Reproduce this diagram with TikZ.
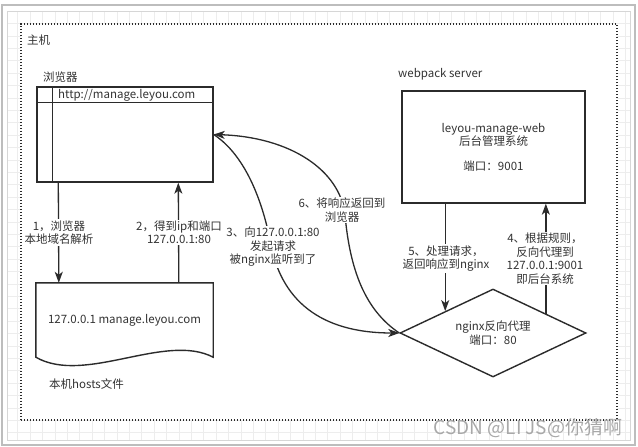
\documentclass[tikz,border=0pt]{standalone}
\usepackage{fontspec}
\setmainfont{Noto Sans CJK SC}
\usetikzlibrary{arrows.meta,shapes.geometric,calc}
\definecolor{ln}{HTML}{2B2B2B}
\definecolor{tx}{HTML}{333333}
\definecolor{gridc}{HTML}{EDEDED}
\definecolor{framec}{HTML}{BDBDBD}
\definecolor{framein}{HTML}{D6D6D6}
\definecolor{wm}{HTML}{A8A8A8}
\begin{document}
\begin{tikzpicture}[x=1pt,y=-1pt,
  font=\fontsize{11.5}{13.5}\selectfont, text=tx,
  shapebox/.style={draw=ln, line width=1.4pt, inner sep=0pt},
  txt/.style={inner sep=0pt},
  arr/.style={draw=ln, line width=1.3pt, -{Stealth[length=11pt,width=8pt,inset=3pt]}},
  lbl/.style={fill=white, inner sep=1.2pt, align=center}]
\useasboundingbox (0,0) rectangle (638,447);
% background grid and frame
\begin{scope}
  \clip (7,11) rectangle (630,440);
  \foreach \i in {0,...,52} \draw[gridc, line width=0.6pt] ({5.2+\i*12.4},0) -- ++(0,447);
  \foreach \j in {0,...,36} \draw[gridc, line width=0.6pt] (0,{11+\j*12.4}) -- ++(638,0);
\end{scope}
\draw[framec, line width=1.2pt] (2,5) rectangle (635,445);
\draw[framein, line width=0.8pt] (7,11) rectangle (630,440);
% host container
\node (host) [draw=ln, fill=white, line width=1.4pt, dash pattern=on 1.4pt off 1.6pt,
  minimum width=596pt, minimum height=396pt, inner sep=0pt] at (319,222) {};
\node (hostlbl) [txt, anchor=west] at (27,40) {主机};
% browser
\node (brlbl) [txt, anchor=west] at (43,77) {浏览器};
\node (br) [shapebox, minimum width=176pt, minimum height=95pt] at (125,134.5) {};
\draw[draw=ln, line width=1.4pt] ($(br.north west)+(0,16)$) -- ($(br.north east)+(0,16)$);
\draw[draw=ln, line width=1.4pt] ($(br.north west)+(16,0)$) -- ($(br.south west)+(16,0)$);
\node (url) [txt, anchor=west] at (58,95) {http://manage.leyou.com};
% hosts document
\node (hosts) [inner sep=0pt, minimum width=177pt, minimum height=74pt] at (124.5,320) {127.0.0.1 manage.leyou.com};
\draw[draw=ln, line width=1.4pt, line join=miter] (hosts.south west) -- (hosts.north west) -- (hosts.north east) -- (hosts.south east)
  .. controls ($(hosts.south east)+(-48,-25)$) and ($(hosts.south west)+(49,28)$) .. (hosts.south west) -- cycle;
\node (hostslbl) [txt, anchor=west] at (49,384) {本机hosts文件};
% webpack server
\node (weblbl) [txt, anchor=west] at (398,74) {webpack server};
\node (web) [shapebox, minimum width=183pt, minimum height=112pt, align=center] at (493.5,147)
  {leyou-manage-web\\后台管理系统\\[11pt]端口：9001};
% nginx
\node (dia) [shapebox, diamond, aspect=2.1, minimum width=186pt, minimum height=88pt, align=center] at (493,333)
  {nginx反向代理\\端口：80};
\coordinate (c5) at ($(dia.west)!0.49!(dia.north)$);
\coordinate (c4) at ($(dia.east)!0.436!(dia.north)$);
% connectors
\draw[arr] ($(br.south west)+(22,0)$) -- ($(hosts.north west)+(23,0)$);
\draw[arr] ($(hosts.north west)+(143,0)$) -- ($(br.south west)+(142,0)$);
\draw[arr] (web.south -| c5) -- (c5);
\draw[arr] (c4) -- (c4 |- web.south);
\draw[arr] (br.east) .. controls (245,155) and (262,200) .. (270,240)
  .. controls (280,300) and (320,333) .. (dia.west);
\draw[arr] (dia.west) .. controls (365,310) and (350,270) .. (345,215)
  .. controls (340,170) and (290,137) .. (br.east);
% labels
\node (l1) [lbl] at (59,232.5) {1，浏览器\\本地域名解析};
\node (l2) [lbl] at (179,232.5) {2，得到ip和端口\\127.0.0.1:80};
\node (l3) [lbl] at (273,247) {3、向127.0.0.1:80\\发起请求\\被nginx监听到了};
\node (l6) [lbl] at (342,210) {6、将响应返回到\\浏览器};
\node (l5) [lbl] at (446,258.5) {5、处理请求，\\返回响应到nginx};
\node (l4) [lbl] at (545,258.5) {4、根据规则，\\反向代理到\\127.0.0.1:9001\\即后台系统};
% watermark
\node (wm) [txt, text=wm, font=\fontsize{19}{22}\selectfont] at (528,428) {CSDN @LI JS@你猜啊};
\end{tikzpicture}
\end{document}
